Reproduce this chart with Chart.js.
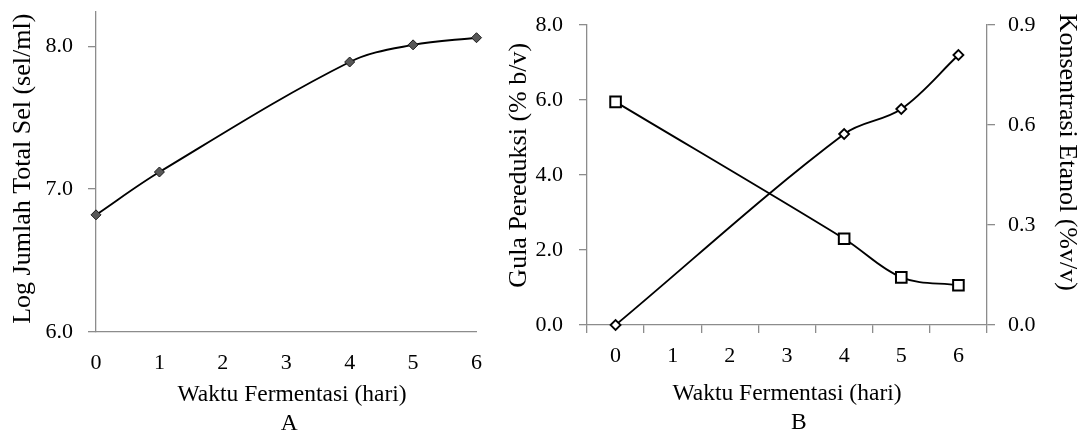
<!DOCTYPE html>
<html><head><meta charset="utf-8">
<script src="https://cdn.jsdelivr.net/npm/chart.js@4.4.0/dist/chart.umd.min.js"></script>
<style>
html,body{margin:0;padding:0;background:#fff;overflow:hidden;}
#wrap{position:relative;width:1079px;height:436px;background:#fff;}
canvas{position:absolute;top:0;}
#cA{left:0;}
#cB{left:500px;}
</style></head><body>
<div id="wrap">
<canvas id="cA" width="500" height="436"></canvas>
<canvas id="cB" width="579" height="436"></canvas>
</div>
<script>
// ---- data ----
const days = ['0', '1', '2', '3', '4', '5', '6'];
const logTotalSel = [6.82, 7.12, null, null, 7.89, 8.01, 8.06];
const gulaPereduksi = [5.95, null, null, null, 2.30, 1.27, 1.06];
const etanol = [0.0, null, null, null, 0.573, 0.648, 0.81];
const ticksSel = [6, 7, 8];
const ticksGula = [0, 2, 4, 6, 8];
const ticksEtanol = [0, 0.3, 0.6, 0.9];
const titleX = 'Waktu Fermentasi (hari)';
const titleSel = 'Log Jumlah Total Sel (sel/ml)';
const titleGula = 'Gula Pereduksi (% b/v)';
const titleEtanol = 'Konsentrasi Etanol (%v/v)';
const panelA = 'A';
const panelB = 'B';

// ---- style ----
const serif = "'Liberation Serif','Times New Roman',serif";
const axisGray = '#8c8c8c';
Chart.defaults.font.family = serif;
Chart.defaults.color = '#000';

const fixTicks = arr => s => { s.ticks = arr.map(v => ({ value: v })); };
const fixWidth = w => s => { s.width = w; s.paddingTop = 0; s.paddingBottom = 0; };
const fmt1 = v => Number(v).toFixed(1);
const common = {
  responsive: false, animation: false, devicePixelRatio: 1,
  plugins: { legend: { display: false }, tooltip: { enabled: false } }
};

// ---- Panel A ----
new Chart(document.getElementById('cA'), {
  type: 'line',
  data: {
    labels: days,
    datasets: [{
      data: logTotalSel, spanGaps: true, clip: false,
      borderColor: '#000', borderWidth: 1.9, tension: 0.35,
      pointStyle: 'rectRot', pointRadius: 5, pointBackgroundColor: '#575757',
      pointBorderColor: '#1a1a1a', pointBorderWidth: 1
    }]
  },
  options: Object.assign({}, common, {
    layout: { padding: { top: 12, right: 21, left: 0, bottom: 0 } },
    scales: {
      x: {
        type: 'category', offset: false,
        grid: { display: false, drawTicks: false },
        border: { color: axisGray, width: 1.3 },
        ticks: { font: { size: 22 }, padding: 18, maxRotation: 0, autoSkip: false },
        title: { display: true, text: ['  ' + titleX, ' ' + panelA], font: { size: 23.5, lineHeight: 1.234 }, padding: { top: 0, bottom: -2 } },
        afterFit: s => { s.height = 104; }
      },
      y: {
        min: 6, max: 8.24,
        afterBuildTicks: fixTicks(ticksSel),
        grid: { drawOnChartArea: false, tickLength: 8, color: axisGray, lineWidth: 1.3 },
        border: { color: axisGray, width: 1.3 },
        ticks: { font: { size: 22, lineHeight: 1 }, padding: 15, callback: fmt1 },
        title: { display: true, text: ' ' + titleSel, font: { size: 26 }, padding: { top: 8, bottom: 0 } },
        afterFit: fixWidth(96)
      }
    }
  })
});

// ---- Panel B ----
new Chart(document.getElementById('cB'), {
  type: 'line',
  data: {
    labels: days,
    datasets: [{
      data: gulaPereduksi, yAxisID: 'y', spanGaps: true, clip: false,
      borderColor: '#000', borderWidth: 1.9, tension: 0.35,
      pointStyle: 'rect', pointRadius: 7.5, pointBackgroundColor: '#fff',
      pointBorderColor: '#000', pointBorderWidth: 2
    }, {
      data: etanol, yAxisID: 'y1', spanGaps: true, clip: false,
      borderColor: '#000', borderWidth: 1.9, tension: 0.35,
      pointStyle: 'rectRot', pointRadius: 5, pointBackgroundColor: '#fff',
      pointBorderColor: '#000', pointBorderWidth: 1.8
    }]
  },
  options: Object.assign({}, common, {
    layout: { padding: { top: 25, right: 0, left: 0, bottom: 0 } },
    scales: {
      x: {
        type: 'category', offset: true,
        grid: { offset: true, drawOnChartArea: false, tickLength: 8, color: axisGray, lineWidth: 1.3 },
        border: { color: axisGray, width: 1.3 },
        ticks: { font: { size: 22 }, padding: 10, maxRotation: 0, autoSkip: false },
        title: { display: true, text: [titleX, '    ' + panelB], font: { size: 23.5, lineHeight: 1.234 }, padding: { top: 0, bottom: -1.5 } },
        afterFit: s => { s.height = 111; }
      },
      y: {
        position: 'left', min: 0, max: 8,
        afterBuildTicks: fixTicks(ticksGula),
        grid: { drawOnChartArea: false, tickLength: 8, color: axisGray, lineWidth: 1.3 },
        border: { color: axisGray, width: 1.3 },
        ticks: { font: { size: 22, lineHeight: 1 }, padding: 16, callback: fmt1 },
        title: { display: true, text: '   ' + titleGula, font: { size: 26 }, padding: { top: 3.5, bottom: 0 } },
        afterFit: fixWidth(87)
      },
      y1: {
        position: 'right', min: 0, max: 0.9,
        afterBuildTicks: fixTicks(ticksEtanol),
        grid: { drawOnChartArea: false, tickLength: 8, color: axisGray, lineWidth: 1.3 },
        border: { color: axisGray, width: 1.3 },
        ticks: { font: { size: 22, lineHeight: 1 }, padding: 13, callback: fmt1 },
        title: { display: true, text: titleEtanol + '       ', font: { size: 26 }, padding: { top: -3.5, bottom: 0 } },
        afterFit: fixWidth(92)
      }
    }
  })
});
</script>
</body></html>
